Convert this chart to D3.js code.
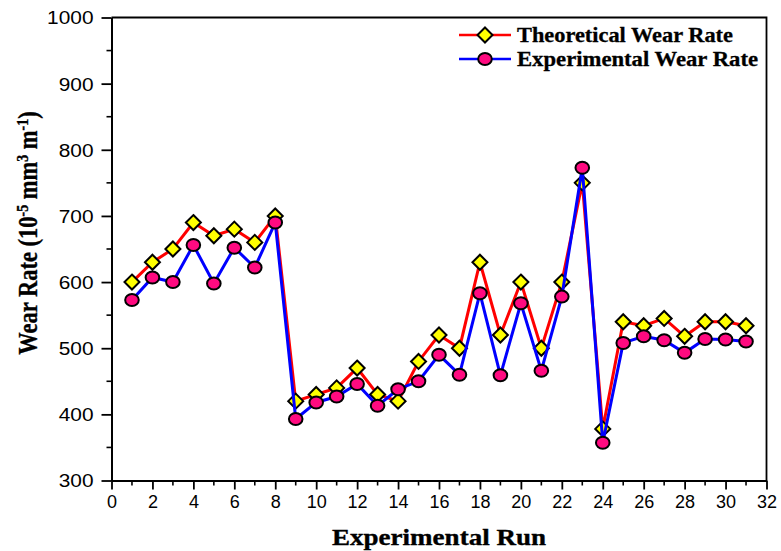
<!DOCTYPE html>
<html>
<head>
<meta charset="utf-8">
<script src="https://cdn.jsdelivr.net/npm/d3@7"></script>
<style>
  html, body { margin: 0; padding: 0; background: #fff; }
  svg { display: block; }
</style>
</head>
<body>
<svg id="chart" width="781" height="551"></svg>
<script>
// Experimental runs 1..31
const runs = d3.range(1, 32);
// Theoretical wear rate (10^-5 mm^3 m^-1)
const theoretical = [600, 630, 650, 690, 670, 680, 660, 700, 420, 430, 440, 470, 430, 420, 480, 520,
                     500, 630, 520, 600, 500, 600, 750, 378, 540, 534, 545, 518, 540, 540, 534];
// Experimental wear rate (10^-5 mm^3 m^-1)
const experimental = [573, 607, 600, 656, 598, 652, 622, 690, 393, 418, 427, 446, 413, 438, 450, 490,
                      460, 583, 459, 568, 466, 578, 773, 357, 508, 518, 512, 493, 514, 513, 510];
const xTicks = d3.range(0, 33, 2);
const yTicks = d3.range(300, 1001, 100);
const seriesNames = ["Theoretical Wear Rate", "Experimental Wear Rate"];

const svg = d3.select("#chart");
const plotLeft = 111.5, plotRight = 766.5, plotTop = 17.5, plotBottom = 480.5;

const x = d3.scaleLinear().domain([0, 32]).range([plotLeft, plotRight]);
const y = d3.scaleLinear().domain([300, 1000]).range([plotBottom, plotTop]);

// frame (top and right)
svg.append("path")
  .attr("d", `M${plotLeft},${plotTop}H${plotRight}V${plotBottom}`)
  .attr("fill", "none").attr("stroke", "#000").attr("stroke-width", 1.8);

// minor ticks
const minorX = d3.range(1, 32, 2);
const minorY = d3.range(350, 1000, 100);
svg.append("g").selectAll("line").data(minorX).join("line")
  .attr("x1", d => x(d)).attr("x2", d => x(d))
  .attr("y1", plotBottom).attr("y2", plotBottom + 5)
  .attr("stroke", "#000").attr("stroke-width", 1.6);
svg.append("g").selectAll("line").data(minorY).join("line")
  .attr("y1", d => y(d)).attr("y2", d => y(d))
  .attr("x1", plotLeft).attr("x2", plotLeft - 5)
  .attr("stroke", "#000").attr("stroke-width", 1.6);

// x axis
const xAxis = svg.append("g").attr("transform", `translate(0,${plotBottom})`)
  .call(d3.axisBottom(x).tickValues(xTicks).tickFormat(d3.format("d"))
    .tickSize(9).tickPadding(6).tickSizeOuter(0));
// y axis
const yAxis = svg.append("g").attr("transform", `translate(${plotLeft},0)`)
  .call(d3.axisLeft(y).tickValues(yTicks).tickFormat(d3.format("d"))
    .tickSize(10).tickPadding(8).tickSizeOuter(0));

[xAxis, yAxis].forEach(g => {
  g.select(".domain").attr("stroke", "#000").attr("stroke-width", 2);
  g.selectAll(".tick line").attr("stroke", "#000").attr("stroke-width", 1.8);
  g.selectAll(".tick text")
    .attr("fill", "#000")
    .style("font-family", "'Liberation Sans', Arial, sans-serif")
    .style("font-size", "18px");
});
xAxis.selectAll(".tick text").attr("dy", "0.71em");
// the value labels on the vertical axis are set a little wider
yAxis.selectAll(".tick text").attr("dy", "0.36em")
  .attr("textLength", d => String(d).length * 11.6)
  .attr("lengthAdjust", "spacingAndGlyphs");

const titleFont = "'Liberation Serif', 'Times New Roman', serif";

// axis titles
svg.append("text")
  .attr("x", (plotLeft + plotRight) / 2).attr("y", 545)
  .attr("text-anchor", "middle")
  .attr("textLength", 214).attr("lengthAdjust", "spacingAndGlyphs")
  .attr("stroke", "#000").attr("stroke-width", 0.35)
  .style("font-family", titleFont)
  .style("font-weight", "bold").style("font-size", "23px")
  .text("Experimental Run");

const yt = svg.append("text")
  .attr("transform", "translate(37,233) rotate(-90) scale(1,1.18)")
  .attr("text-anchor", "middle")
  .attr("stroke", "#000").attr("stroke-width", 0.3)
  .style("font-family", titleFont)
  .style("font-weight", "bold").style("font-size", "22.5px");
yt.append("tspan").text("Wear Rate (10");
yt.append("tspan").attr("dy", -8).style("font-size", "14px").text("-5");
yt.append("tspan").attr("dy", 8).text(" mm");
yt.append("tspan").attr("dy", -8).style("font-size", "14px").text("3");
yt.append("tspan").attr("dy", 8).text(" m");
yt.append("tspan").attr("dy", -8).style("font-size", "14px").text("-1");
yt.append("tspan").attr("dy", 8).text(")");

const line = d3.line().x((d, i) => x(runs[i])).y(d => y(d));
const diamond = (cx, cy, r) => `M${cx},${cy - r}L${cx + r},${cy}L${cx},${cy + r}L${cx - r},${cy}Z`;

// theoretical series
svg.append("path").datum(theoretical).attr("d", line)
  .attr("fill", "none").attr("stroke", "#ff0000").attr("stroke-width", 3);
svg.append("g").selectAll("path").data(theoretical).join("path")
  .attr("d", (d, i) => diamond(x(runs[i]), y(d), 7.5))
  .attr("fill", "#ffff00").attr("stroke", "#000").attr("stroke-width", 2);

// experimental series
svg.append("path").datum(experimental).attr("d", line)
  .attr("fill", "none").attr("stroke", "#0000ff").attr("stroke-width", 3);
svg.append("g").selectAll("ellipse").data(experimental).join("ellipse")
  .attr("cx", (d, i) => x(runs[i])).attr("cy", d => y(d))
  .attr("rx", 6.8).attr("ry", 6)
  .attr("fill", "#ff0a80").attr("stroke", "#000").attr("stroke-width", 2);

// legend
const lg = svg.append("g");
const legendRows = [
  { name: seriesNames[0], color: "#ff0000", y: 35, shape: "diamond", width: 216 },
  { name: seriesNames[1], color: "#0000ff", y: 59, shape: "circle", width: 241 }
];
legendRows.forEach(r => {
  lg.append("line").attr("x1", 459).attr("x2", 511).attr("y1", r.y).attr("y2", r.y)
    .attr("stroke", r.color).attr("stroke-width", 2.5);
  if (r.shape === "diamond") {
    lg.append("path").attr("d", diamond(485, r.y, 7.5))
      .attr("fill", "#ffff00").attr("stroke", "#000").attr("stroke-width", 2);
  } else {
    lg.append("ellipse").attr("cx", 485).attr("cy", r.y).attr("rx", 6.8).attr("ry", 6)
      .attr("fill", "#ff0a80").attr("stroke", "#000").attr("stroke-width", 2);
  }
  lg.append("text").attr("x", 517).attr("y", r.y + 7)
    .attr("textLength", r.width).attr("lengthAdjust", "spacingAndGlyphs")
    .attr("stroke", "#000").attr("stroke-width", 0.3)
    .style("font-family", titleFont)
    .style("font-weight", "bold").style("font-size", "21px")
    .text(r.name);
});
</script>
</body>
</html>
